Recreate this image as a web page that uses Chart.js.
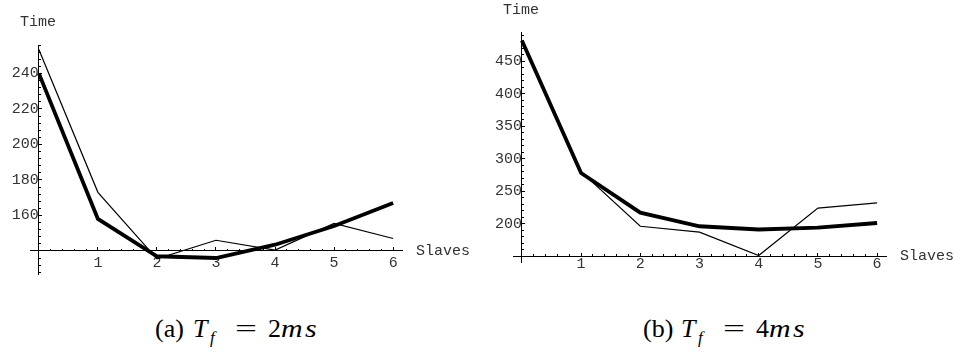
<!DOCTYPE html>
<html>
<head>
<meta charset="utf-8">
<script src="https://cdn.jsdelivr.net/npm/chart.js@4.4.1/dist/chart.umd.min.js"></script>
<style>
  body { margin: 0; background: #fff; width: 959px; height: 351px; position: relative; overflow: hidden; }
  canvas { position: absolute; top: 0; }
  .lbl { position: absolute; font-family: 'Liberation Mono', monospace; font-size: 15px; line-height: 18px; color: #333; }
  .cap { position: absolute; font-family: 'Liberation Serif', serif; font-size: 26px; line-height: 30px; white-space: nowrap; color: #000; }
  .cap span, .cap i, .cap sub { display: inline-block; }
  .cap .lab { width: 38px; }
  .cap .t { width: 17px; }
  .cap sub { width: 25px; font-size: 17px; vertical-align: -6px; }
  .cap .eq { width: 33px; }
  .cap .eq b { display: inline-block; font-weight: normal; transform: scaleX(1.5); transform-origin: left center; }
  .cap .unit { letter-spacing: 2px; transform: scaleX(1.15); transform-origin: left center; }
</style>
</head>
<body>
<canvas id="chartA" width="480" height="300" style="left:0"></canvas>
<canvas id="chartB" width="479" height="300" style="left:480px"></canvas>

<div class="lbl" style="left:20px;top:14px">Time</div>
<div class="lbl" style="left:416px;top:243px">Slaves</div>
<div class="lbl" style="left:503px;top:2px">Time</div>
<div class="lbl" style="left:900px;top:248px">Slaves</div>

<div class="cap" style="left:155px;top:314px"><span class="lab">(a)</span><i class="t">T</i><sub><i>f</i></sub><span class="eq"><b>=</b></span><span>2</span><i class="unit">ms</i></div>
<div class="cap" style="left:643px;top:314px"><span class="lab">(b)</span><i class="t">T</i><sub><i>f</i></sub><span class="eq"><b>=</b></span><span>4</span><i class="unit">ms</i></div>

<script>
// number of slaves (x values)
const slaves = [0, 1, 2, 3, 4, 5, 6];

// (a) Tf = 2ms
const timeA_thin  = [253.5, 173, 135.5, 146, 140.5, 155.5, 147];
const timeA_thick = [240, 158, 137, 136, 143.5, 154, 167];

// (b) Tf = 4ms
const timeB_thin  = [482, 280, 196, 187, 151, 224, 232];
const timeB_thick = [482, 278, 217, 196, 191, 194, 201];

const monoFont = { family: 'Liberation Mono', size: 15 };
const textColor = '#333';

function toPoints(values) {
    return slaves.map((s, i) => ({ x: s, y: values[i] }));
}

function makeChart(canvasId, thin, thick, opts) {
    const ctx = document.getElementById(canvasId).getContext('2d');
    const noHeight = s => { s.height = 0; };
    const noWidth = s => { s.width = 0; };

    new Chart(ctx, {
        type: 'line',
        data: {
            datasets: [{
                data: toPoints(thin),
                borderColor: '#000',
                borderWidth: 1.2,
                pointRadius: 0,
                tension: 0
            }, {
                data: toPoints(thick),
                borderColor: '#000',
                borderWidth: 3.8,
                pointRadius: 0,
                tension: 0
            }]
        },
        options: {
            responsive: false,
            animation: false,
            devicePixelRatio: 1,
            layout: { padding: opts.padding },
            plugins: { legend: { display: false }, tooltip: { enabled: false } },
            scales: {
                x: {
                    type: 'linear', axis: 'x',
                    min: -0.15, max: 6.15,
                    position: { y: opts.cross },
                    afterFit: noHeight,
                    border: { color: '#000', width: 1 },
                    grid: { drawOnChartArea: false, tickLength: -4, tickColor: '#000', tickWidth: 1 },
                    ticks: {
                        stepSize: 1, includeBounds: false, autoSkip: false, maxRotation: 0,
                        padding: opts.xPad, font: monoFont, color: textColor,
                        callback: v => (v === 0 ? '' : v)
                    }
                },
                xMinor: {
                    type: 'linear', axis: 'x',
                    min: -0.15, max: 6.15,
                    position: { y: opts.cross },
                    afterFit: noHeight,
                    border: { display: false },
                    grid: { drawOnChartArea: false, tickLength: -2, tickColor: '#000', tickWidth: 1 },
                    ticks: { stepSize: 0.2, includeBounds: false, autoSkip: false, display: false }
                },
                y: {
                    type: 'linear', axis: 'y',
                    min: opts.yMin, max: opts.yMax,
                    position: { x: 0 },
                    afterFit: noWidth,
                    border: { color: '#000', width: 1 },
                    grid: { drawOnChartArea: false, tickLength: -4, tickColor: '#000', tickWidth: 1 },
                    ticks: {
                        stepSize: opts.yStep, includeBounds: false, autoSkip: false,
                        padding: opts.yPad, font: monoFont, color: textColor,
                        callback: v => (v === opts.cross ? '' : v)
                    }
                },
                yMinor: {
                    type: 'linear', axis: 'y',
                    min: opts.yMin, max: opts.yMax,
                    position: { x: 0 },
                    afterFit: noWidth,
                    border: { display: false },
                    grid: { drawOnChartArea: false, tickLength: -2, tickColor: '#000', tickWidth: 1 },
                    ticks: { stepSize: opts.yMinorStep, includeBounds: false, autoSkip: false, display: false }
                }
            }
        }
    });
}

makeChart('chartA', timeA_thin, timeA_thick, {
    padding: { left: 30, right: 78, top: 45, bottom: 26 },
    cross: 140, yMin: 127, yMax: 256, yStep: 20, yMinorStep: 4,
    xPad: 7, yPad: 4
});

makeChart('chartB', timeB_thin, timeB_thick, {
    padding: { left: 33, right: 73, top: 32, bottom: 38 },
    cross: 150, yMin: 141, yMax: 495, yStep: 50, yMinorStep: 10,
    xPad: 3, yPad: 4
});
</script>
</body>
</html>
